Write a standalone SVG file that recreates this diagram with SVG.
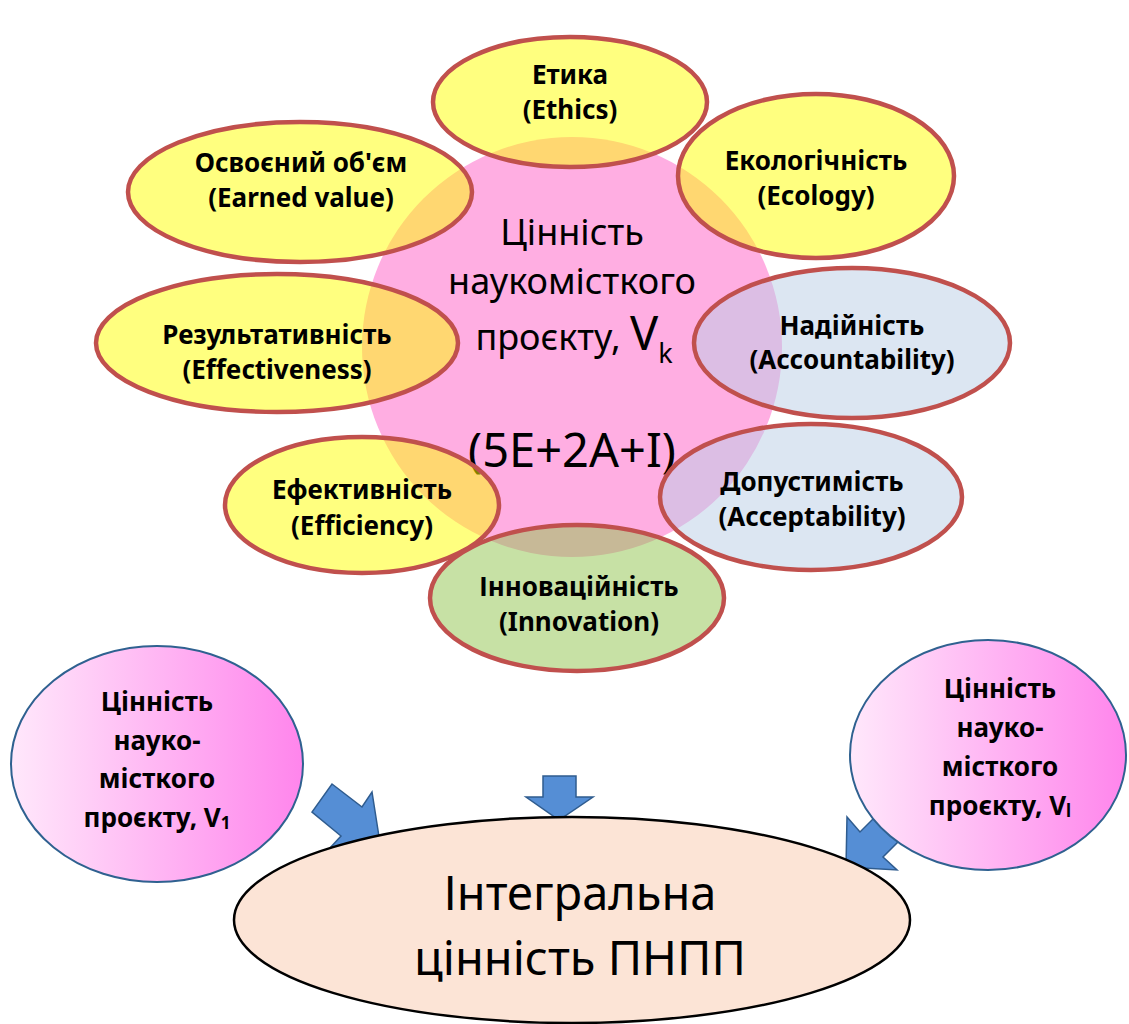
<svg xmlns="http://www.w3.org/2000/svg" width="1129" height="1024" viewBox="0 0 1129 1024">
  <defs>
    <linearGradient id="pinkGrad" x1="0" y1="0" x2="1" y2="0">
      <stop offset="0" stop-color="#FFE8FB"/>
      <stop offset="1" stop-color="#FF85EC"/>
    </linearGradient>
    <style>
      .lbl { font-family: "Noto Sans", "DejaVu Sans", sans-serif; font-weight: bold; font-size: 26px; fill: #000; text-anchor: middle; }
      .big { font-family: "Noto Sans", "DejaVu Sans", sans-serif; font-size: 36px; fill: #000; text-anchor: middle; }
      .huge { font-family: "Noto Sans", "DejaVu Sans", sans-serif; font-size: 47px; fill: #000; text-anchor: middle; }
      .sat { stroke: #C0504D; stroke-width: 4.5; fill-opacity: 0.5; }
      .yellow { fill: #FFFF00; }
      .blue { fill: #B9CDE5; }
      .green { fill: #8FC44C; }
      .vcirc { fill: url(#pinkGrad); stroke: #2F6190; stroke-width: 2; }
      .arrow { fill: #558ED5; stroke: #2F5C8F; stroke-width: 1.5; stroke-linejoin: miter; }
    </style>
  </defs>

  <rect width="1129" height="1024" fill="#FFFFFF"/>

  <!-- central value circle -->
  <g id="node-center">
    <circle cx="572" cy="347" r="210" fill="#FFAEE2"/>
    <text class="big" x="572" y="245">Цінність</text>
    <text class="big" x="572" y="294">наукомісткого</text>
    <text class="big" x="574" y="350">проєкту, <tspan font-size="47">V</tspan><tspan font-size="27" dy="13">k</tspan></text>
    <text class="huge" x="572" y="467">(5E+2A+I)</text>
  </g>

  <!-- satellite criteria -->
  <g id="node-ethics">
    <ellipse class="sat yellow" cx="570" cy="102" rx="137" ry="65"/>
    <text class="lbl" x="570" y="84">Етика</text>
    <text class="lbl" x="570" y="119">(Ethics)</text>
  </g>
  <g id="node-earned-value">
    <ellipse class="sat yellow" cx="300" cy="192" rx="172" ry="70"/>
    <text class="lbl" x="301" y="172">Освоєний об'єм</text>
    <text class="lbl" x="301" y="207">(Earned value)</text>
  </g>
  <g id="node-ecology">
    <ellipse class="sat yellow" cx="816" cy="176" rx="138" ry="82"/>
    <text class="lbl" x="816" y="170">Екологічність</text>
    <text class="lbl" x="816" y="205">(Ecology)</text>
  </g>
  <g id="node-effectiveness">
    <ellipse class="sat yellow" cx="277" cy="343" rx="181" ry="69"/>
    <text class="lbl" x="277" y="344">Результативність</text>
    <text class="lbl" x="277" y="379">(Effectiveness)</text>
  </g>
  <g id="node-accountability">
    <ellipse class="sat blue" cx="852" cy="343" rx="158" ry="75"/>
    <text class="lbl" x="852" y="335">Надійність</text>
    <text class="lbl" x="852" y="369">(Accountability)</text>
  </g>
  <g id="node-efficiency">
    <ellipse class="sat yellow" cx="362" cy="505" rx="137" ry="68"/>
    <text class="lbl" x="362" y="499">Ефективність</text>
    <text class="lbl" x="362" y="535">(Efficiency)</text>
  </g>
  <g id="node-acceptability">
    <ellipse class="sat blue" cx="811" cy="497" rx="151" ry="73"/>
    <text class="lbl" x="812" y="491">Допустимість</text>
    <text class="lbl" x="812" y="526">(Acceptability)</text>
  </g>
  <g id="node-innovation">
    <ellipse class="sat green" cx="577" cy="598" rx="147" ry="73"/>
    <text class="lbl" x="579" y="596">Інноваційність</text>
    <text class="lbl" x="579" y="631">(Innovation)</text>
  </g>

  <!-- block arrows feeding the integral value -->
  <g id="connectors">
    <polygon class="arrow" points="332,784 362,807 372,792 380,843 329,849 341,836 312,812"/>
    <polygon class="arrow" points="543,776 576,776 576,797 593,797 559,820 526,797 543,797"/>
    <polygon class="arrow" points="890,802 860,832 847,817 846,867 897,870 883,857 913,827"/>
  </g>

  <!-- individual project values -->
  <g id="node-v1">
    <ellipse class="vcirc" cx="157" cy="764" rx="146" ry="118"/>
    <text class="lbl" x="157" y="711">Цінність</text>
    <text class="lbl" x="157" y="750">науко-</text>
    <text class="lbl" x="157" y="788">місткого</text>
    <text class="lbl" x="157" y="827">проєкту, V<tspan font-size="17" dy="2">1</tspan></text>
  </g>
  <g id="node-vl">
    <ellipse class="vcirc" cx="988" cy="755" rx="138" ry="115"/>
    <text class="lbl" x="1000" y="698">Цінність</text>
    <text class="lbl" x="1000" y="737">науко-</text>
    <text class="lbl" x="1000" y="776">місткого</text>
    <text class="lbl" x="1000" y="815">проєкту, V<tspan font-size="17" dy="2">l</tspan></text>
  </g>

  <!-- integral portfolio value -->
  <g id="node-integral">
    <ellipse cx="572" cy="920" rx="338" ry="103" fill="#FCE4D6" stroke="#000" stroke-width="2.5"/>
    <text class="huge" x="580" y="910">Інтегральна</text>
    <text class="huge" x="580" y="975">цінність ПНПП</text>
  </g>
</svg>
